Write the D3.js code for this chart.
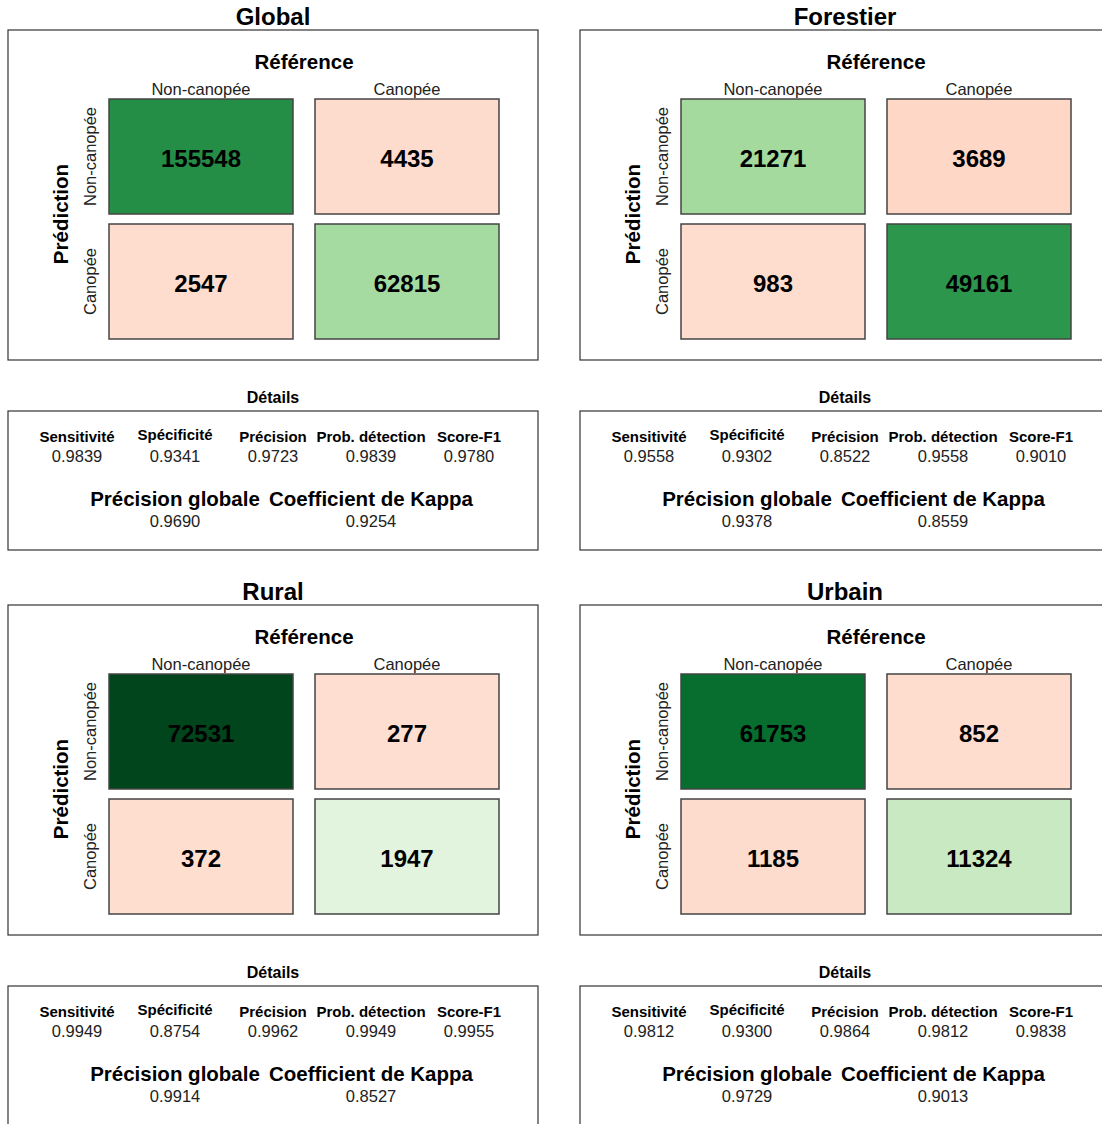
<!DOCTYPE html>
<html>
<head>
<meta charset="utf-8">
<script src="https://cdn.jsdelivr.net/npm/d3@7"></script>
<style>
  html, body { margin: 0; padding: 0; background: #fff; }
  svg { display: block; font-family: "Liberation Sans", Arial, sans-serif; }
</style>
</head>
<body>
<svg id="chart" width="1102" height="1124"></svg>
<script>
// Zones and classes
const zones = ["Global", "Forestier", "Rural", "Urbain"];
const classes = ["Non-canopée", "Canopée"];

// Confusion counts, row = prediction, column = reference:
// [NC/NC, NC/C, C/NC, C/C]
const globalCounts    = [155548, 4435, 2547, 62815];
const forestierCounts = [21271, 3689, 983, 49161];
const ruralCounts     = [72531, 277, 372, 1947];
const urbainCounts    = [61753, 852, 1185, 11324];

// Per-class statistics
const metricNames = ["Sensitivité", "Spécificité", "Précision", "Prob. détection", "Score-F1"];
const globalMetrics    = [0.9839, 0.9341, 0.9723, 0.9839, 0.9780];
const forestierMetrics = [0.9558, 0.9302, 0.8522, 0.9558, 0.9010];
const ruralMetrics     = [0.9949, 0.8754, 0.9962, 0.9949, 0.9955];
const urbainMetrics    = [0.9812, 0.9300, 0.9864, 0.9812, 0.9838];

// Overall statistics
const overallNames = ["Précision globale", "Coefficient de Kappa"];
const globalOverall    = [0.9690, 0.9254];
const forestierOverall = [0.9378, 0.8559];
const ruralOverall     = [0.9914, 0.8527];
const urbainOverall    = [0.9729, 0.9013];

const countsByZone  = [globalCounts, forestierCounts, ruralCounts, urbainCounts];
const metricsByZone = [globalMetrics, forestierMetrics, ruralMetrics, urbainMetrics];
const overallByZone = [globalOverall, forestierOverall, ruralOverall, urbainOverall];

const svg = d3.select("#chart");
const fmt = d3.format(".4f");

// Share of the total drives the fill: greens for agreements, reds for errors
const greenScale = d3.scaleSequential(d3.interpolateGreens).domain([-0.1075, 0.9677]).clamp(true);
const redScale   = d3.scaleSequential(d3.interpolateReds).domain([-0.2, 1.467]).clamp(true);

const panelW = 530, matH = 330, detH = 139;
const colX = [8, 580];
const rowY = [0, 575];

// Cell grid inside the matrix frame
const xBand = d3.scaleBand().domain(classes).range([101, 491]).paddingInner(22 / 206).paddingOuter(0);
const yBand = d3.scaleBand().domain(classes).range([69, 309]).paddingInner(10 / 125).paddingOuter(0);

// Detail statistics laid out on a 0..100 horizontal scale
const detX = d3.scaleLinear().domain([0, 100]).range([20, 510]);

zones.forEach((zone, i) => {
  const ox = colX[i % 2], oy = rowY[Math.floor(i / 2)];
  const counts = countsByZone[i];
  const total = d3.sum(counts);

  // ---- matrix block ----
  const m = svg.append("g").attr("transform", `translate(${ox},${oy + 30})`);
  m.append("rect").attr("x", 0).attr("y", 0).attr("width", panelW).attr("height", matH)
    .attr("fill", "none").attr("stroke", "#333").attr("stroke-width", 1.2);

  m.append("text").attr("x", panelW / 2).attr("y", -5)
    .attr("text-anchor", "middle").attr("font-weight", "bold").attr("font-size", 24)
    .text(zone);

  m.append("text").attr("x", (xBand.range()[0] + xBand.range()[1]) / 2).attr("y", 39)
    .attr("text-anchor", "middle").attr("font-weight", "bold").attr("font-size", 20.5)
    .text("Référence");

  m.selectAll("text.col").data(classes).enter().append("text").attr("class", "col")
    .attr("x", d => xBand(d) + xBand.bandwidth() / 2).attr("y", 65)
    .attr("text-anchor", "middle").attr("font-size", 16.5).attr("fill", "#222")
    .text(d => d);

  m.append("text")
    .attr("transform", `translate(60,184) rotate(-90)`)
    .attr("text-anchor", "middle").attr("font-weight", "bold").attr("font-size", 20.5)
    .text("Prédiction");

  m.selectAll("text.row").data(classes).enter().append("text").attr("class", "row")
    .attr("transform", d => `translate(88,${yBand(d) + yBand.bandwidth() / 2}) rotate(-90)`)
    .attr("text-anchor", "middle").attr("font-size", 16.5).attr("fill", "#222")
    .text(d => d);

  const cells = [];
  classes.forEach((pred, r) => classes.forEach((ref, c) => {
    cells.push({ pred, ref, value: counts[r * 2 + c], diag: r === c });
  }));

  const cg = m.selectAll("g.cell").data(cells).enter().append("g").attr("class", "cell");
  cg.append("rect")
    .attr("x", d => xBand(d.ref)).attr("y", d => yBand(d.pred))
    .attr("width", xBand.bandwidth()).attr("height", yBand.bandwidth())
    .attr("fill", d => d.diag ? greenScale(d.value / total) : redScale(d.value / total))
    .attr("stroke", "#444").attr("stroke-width", 1.5);
  cg.append("text")
    .attr("x", d => xBand(d.ref) + xBand.bandwidth() / 2)
    .attr("y", d => yBand(d.pred) + yBand.bandwidth() / 2 + 10)
    .attr("text-anchor", "middle").attr("font-weight", "bold").attr("font-size", 24)
    .attr("fill", "#000")
    .text(d => d.value);

  // ---- details block ----
  const dgrp = svg.append("g").attr("transform", `translate(${ox},${oy + 411})`);
  dgrp.append("rect").attr("x", 0).attr("y", 0).attr("width", panelW).attr("height", detH)
    .attr("fill", "none").attr("stroke", "#333").attr("stroke-width", 1.2);

  dgrp.append("text").attr("x", panelW / 2).attr("y", -8)
    .attr("text-anchor", "middle").attr("font-weight", "bold").attr("font-size", 16)
    .text("Détails");

  const metrics = metricsByZone[i];
  const mPos = [10, 30, 50, 70, 90];
  metricNames.forEach((name, k) => {
    dgrp.append("text").attr("x", detX(mPos[k])).attr("y", name === "Spécificité" ? 29 : 31)
      .attr("text-anchor", "middle").attr("font-weight", "bold").attr("font-size", 15)
      .text(name);
    dgrp.append("text").attr("x", detX(mPos[k])).attr("y", 51)
      .attr("text-anchor", "middle").attr("font-size", 16.5).attr("fill", "#222")
      .text(fmt(metrics[k]));
  });

  const overall = overallByZone[i];
  const oPos = [30, 70];
  overallNames.forEach((name, k) => {
    dgrp.append("text").attr("x", detX(oPos[k])).attr("y", 95)
      .attr("text-anchor", "middle").attr("font-weight", "bold").attr("font-size", 20.5)
      .text(name);
    dgrp.append("text").attr("x", detX(oPos[k])).attr("y", 116)
      .attr("text-anchor", "middle").attr("font-size", 16.5).attr("fill", "#222")
      .text(fmt(overall[k]));
  });
});
</script>
</body>
</html>
